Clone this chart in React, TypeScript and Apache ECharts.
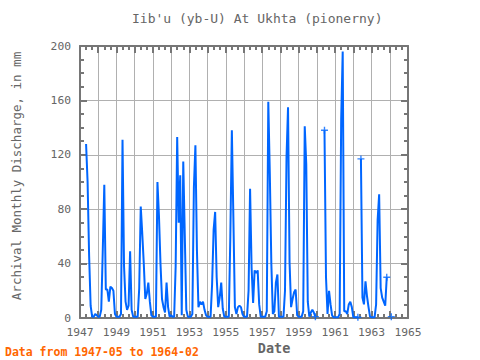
import React, { useEffect, useRef } from "react";
import * as echarts from "echarts";

const FIRST_YEAR = 1947;
// Monthly discharge (mm), Jan..Dec of each year; null = no data
const v1947 = [null, null, null, null, 128, 100, 46, 9, 1, 1, 3, 2];
const v1948 = [1, 1, 6, 50, 98, 21, 21, 12, 23, 22, 20, 3];
const v1949 = [1, 1, 1, 3, 131, 38, 12, 6, 9, 49, 6, 1];
const v1950 = [1, 1, 1, 22, 82, 62, 40, 14, 18, 26, 12, 2];
const v1951 = [1, 1, 1, 100, 75, 40, 14, 8, 4, 26, 8, 1];
const v1952 = [2, 1, 1, 38, 133, 70, 105, 2, 115, 61, 6, 1];
const v1953 = [1, 1, 3, 96, 127, 50, 8, 12, 10, 12, 6, 2];
const v1954 = [1, 1, 1, 25, 65, 78, 30, 8, 15, 26, 7, 1];
const v1955 = [1, 1, 1, 60, 138, 74, 8, 3, 8, 9, 8, 3];
const v1956 = [1, 1, 1, 20, 95, 37, 11, 35, 33, 35, 10, 1];
const v1957 = [1, 1, 1, 5, 159, 106, 40, 3, 5, 26, 32, 1];
const v1958 = [1, 1, 1, 20, 118, 155, 41, 8, 14, 19, 21, 2];
const v1959 = [1, 1, 1, 5, 141, 113, 12, 1, 4, 6, 4, 1];
const v1960 = [null, null, null, null, null, 138, 30, 3, 20, 10, 2, 0.5];
const v1961 = [0.5, 0.5, 0.5, 3, 146, 196, 5, 5, 3, 10, 12, 8];
const v1962 = [0.5, 0.5, 0.5, 0.5, null, 117, 15, 10, 27, 16, 8, 1];
const v1963 = [0.5, 0.5, 0.5, 10, 72, 91, 22, 15, 12, 9, 30, null];
const v1964 = [null, 1];

const yearlyValues = [
  v1947, v1948, v1949, v1950, v1951, v1952, v1953, v1954, v1955,
  v1956, v1957, v1958, v1959, v1960, v1961, v1962, v1963, v1964,
];

const TITLE = "Iib'u (yb-U) At Ukhta (pionerny)";
const Y_NAME = "Archival Monthly Discharge, in mm";
const X_NAME = "Date";
const FOOTER = "Data from 1947-05 to 1964-02";

const FONT = "DejaVu Sans Mono";
const TEXT = "#666666";
const AXIS = "#767676";
const GRID = "#b0b0b0";
const LINE = "#0066ff";

export default function App() {
  const ref = useRef<HTMLDivElement>(null);

  useEffect(() => {
    document.body.style.margin = "0";
    if (!ref.current) return;
    const chart = echarts.init(ref.current, undefined, { renderer: "svg" });

    const raw: { x: number; v: number | null }[] = [];
    yearlyValues.forEach((arr, i) => {
      arr.forEach((v, m) => raw.push({ x: FIRST_YEAR + i + m / 12, v }));
    });
    let s = 0;
    while (raw[s].v === null) s++;
    let e = raw.length - 1;
    while (raw[e].v === null) e--;
    const seq = raw.slice(s, e + 1);
    const lineData = seq.map((p) => [p.x, p.v === null ? "-" : p.v]);
    const ends: number[][] = [];
    seq.forEach((p, i) => {
      if (p.v === null) return;
      const prevNull = i > 0 && seq[i - 1].v === null;
      const nextNull = i < seq.length - 1 && seq[i + 1].v === null;
      if (prevNull || nextNull) ends.push([p.x, p.v]);
    });

    const axisLine = { show: true, onZero: false, lineStyle: { color: AXIS, width: 2 } };
    const axisTick = { show: true, inside: true, length: 7, lineStyle: { color: AXIS, width: 2 } };

    chart.setOption({
      animation: false,
      backgroundColor: "#ffffff",
      grid: { left: 80, right: 72, top: 46, bottom: 42, containLabel: false },
      title: {
        text: TITLE,
        left: 127,
        top: 7,
        textStyle: { fontFamily: FONT, fontSize: 13, fontWeight: "normal", color: TEXT },
      },
      xAxis: [
        {
          type: "value",
          position: "bottom",
          min: 1947,
          max: 1965,
          interval: 1,
          axisLine,
          axisTick,
          minorTick: { show: true, splitNumber: 3, length: 4, lineStyle: { color: AXIS, width: 2 } },
          splitLine: { show: true, lineStyle: { color: GRID, width: 1 } },
          axisLabel: {
            formatter: (v: number) => ((v - 1947) % 2 === 0 ? String(v) : ""),
            color: TEXT,
            fontFamily: FONT,
            fontSize: 11.3,
            margin: 9,
          },
        },
        {
          type: "value",
          position: "top",
          min: 1947,
          max: 1965,
          interval: 1,
          axisLine,
          axisTick,
          minorTick: { show: true, splitNumber: 3, length: 4, lineStyle: { color: AXIS, width: 2 } },
          splitLine: { show: false },
          axisLabel: { show: false },
        },
      ],
      yAxis: [
        {
          type: "value",
          position: "left",
          min: 0,
          max: 200,
          interval: 40,
          axisLine,
          axisTick,
          minorTick: { show: true, splitNumber: 4, length: 4, lineStyle: { color: AXIS, width: 2 } },
          splitLine: { show: true, lineStyle: { color: GRID, width: 1 } },
          axisLabel: { color: TEXT, fontFamily: FONT, fontSize: 11.3, margin: 9 },
        },
        {
          type: "value",
          position: "right",
          min: 0,
          max: 200,
          interval: 40,
          axisLine,
          axisTick,
          minorTick: { show: true, splitNumber: 4, length: 4, lineStyle: { color: AXIS, width: 2 } },
          splitLine: { show: false },
          axisLabel: { show: false },
        },
      ],
      series: [
        {
          type: "line",
          xAxisIndex: 0,
          yAxisIndex: 0,
          data: lineData,
          showSymbol: false,
          symbol: "none",
          connectNulls: false,
          lineStyle: { color: LINE, width: 2 },
          z: 3,
        },
        {
          type: "scatter",
          xAxisIndex: 0,
          yAxisIndex: 0,
          data: ends,
          symbol: "path://M4,0H6V4H10V6H6V10H4V6H0V4H4Z",
          symbolSize: 7,
          itemStyle: { color: LINE },
          z: 4,
        },
      ],
      graphic: [
        {
          type: "text",
          x: 16,
          y: 176,
          rotation: Math.PI / 2,
          style: {
            text: Y_NAME,
            fill: TEXT,
            font: `12.5px "${FONT}"`,
            textAlign: "center",
            textVerticalAlign: "middle",
          },
        },
        {
          type: "text",
          x: 274,
          y: 348,
          style: {
            text: X_NAME,
            fill: TEXT,
            font: `bold 13.5px "${FONT}"`,
            textAlign: "center",
            textVerticalAlign: "middle",
          },
        },
        {
          type: "text",
          x: 5,
          y: 352,
          style: {
            text: FOOTER,
            fill: "#ff6600",
            font: `bold 11.5px "${FONT}"`,
            textAlign: "left",
            textVerticalAlign: "middle",
          },
        },
      ],
    });

    return () => chart.dispose();
  }, []);

  return <div ref={ref} style={{ width: 480, height: 360 }} />;
}
